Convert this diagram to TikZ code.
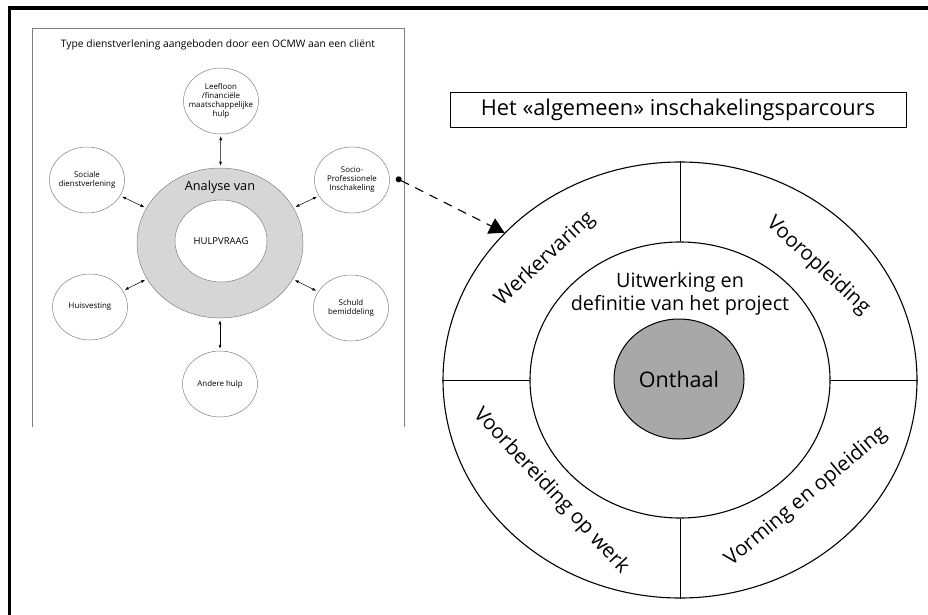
\documentclass[tikz,border=0pt]{standalone}
\usepackage{fontspec}
\setmainfont{Open Sans}
\usepackage{xcolor}
\usetikzlibrary{shapes.geometric, arrows.meta, positioning, calc}

\tikzset{
  svc/.style={ellipse, draw=gray, line width=0.5pt, fill=white, minimum width=75pt, minimum height=66pt, inner sep=-14pt, align=center, font=\fontsize{7.9}{9}\selectfont},
  link/.style={<->, >={Latex[length=4pt,width=3pt]}, line width=0.5pt, shorten <=2pt, shorten >=2pt},
  ringtxt/.style={font=\fontsize{20.5}{24}\selectfont, inner sep=0pt}
}

\begin{document}
\begin{tikzpicture}[x=1pt, y=-1pt]
\useasboundingbox (0,0) rectangle (928,615);
% outer frame (top and left only)
\draw[line width=3.5pt] (9.5,615) -- (9.5,8) -- (928,8);

% left panel: services of an OCMW
\draw[gray, line width=0.6pt] (32,427) -- (32,28) -- (404,28) -- (404,427);
\node[font=\fontsize{10.3}{12}\selectfont] (ptitle) at (218,45) {Type dienstverlening aangeboden door een OCMW aan een cliënt};

\node[ellipse, draw=gray, line width=0.5pt, fill=black!16, minimum width=166pt, minimum height=150pt] (ring) at (220,243) {};
\node[ellipse, draw=gray, line width=0.5pt, fill=white, minimum width=92pt, minimum height=82pt, inner sep=0pt, font=\fontsize{9.5}{12}\selectfont] (hulp) at (221,241) {HULPVRAAG};
\node[font=\fontsize{12.7}{15}\selectfont] (analyse) at (220,187) {Analyse van};

\node[svc] (leefloon) at (221,101) {Leefloon\\/financiële\\maatschappelijke\\hulp};
\node[svc] (sociale) at (87,180) {Sociale\\dienstverlening};
\node[svc] (socio) at (352,180) {Socio-\\Professionele\\Inschakeling};
\node[svc] (huis) at (90,307) {Huisvesting};
\node[svc] (schuld) at (351,308) {Schuld\\bemiddeling};
\node[svc] (andere) at (220,384) {Andere hulp};

\draw[link] (leefloon) -- (ring);
\draw[link] (sociale) -- (ring);
\draw[link] (socio) -- (ring);
\draw[link] (huis) -- (ring);
\draw[link] (schuld) -- (ring);
\draw[link] (andere) -- (ring);

% right side: the general path
\node[draw, line width=0.8pt, minimum width=456pt, minimum height=35pt, font=\fontsize{21.8}{24}\selectfont] (parcours) at (678,110) {Het «algemeen» inschakelingsparcours};

\node[ellipse, draw, line width=1.1pt, minimum width=474pt, minimum height=436pt] (outer) at (680,380) {};
\node[ellipse, draw, line width=1.1pt, minimum width=300pt, minimum height=276pt] (inner) at (680,380) {};
\node[ellipse, draw, line width=1pt, fill=black!34, minimum width=130pt, minimum height=120pt, inner sep=0pt, font=\fontsize{21.5}{24}\selectfont] (onthaal) at (679,379) {Onthaal};
\node[align=center, font=\fontsize{19.8}{23}\selectfont] (uitwerking) at (680,294) {Uitwerking en\\definitie van het project};

\draw[line width=1pt] (outer.north) -- (inner.north);
\draw[line width=1pt] (outer.south) -- (inner.south);
\draw[line width=1pt] (outer.west) -- (inner.west);
\draw[line width=1pt] (outer.east) -- (inner.east);

\node[ringtxt, rotate=43] (werk) at (545,259) {Werkervaring};
\node[ringtxt, rotate=-43] (voor) at (818,266) {Vooropleiding};
\node[ringtxt, rotate=-47] (voorb) at (551,491) {Voorbereiding op werk};
\node[ringtxt, rotate=40] (vorming) at (806,497) {Vorming en opleiding};

% link from the left panel to the circle
\coordinate (start) at (396,178);
\draw[line width=1.1pt, dash pattern=on 9pt off 7pt, {Circle[length=6pt]}-{Triangle[length=15pt,width=17pt]}] (start) -- (outer.140);
\end{tikzpicture}
\end{document}
